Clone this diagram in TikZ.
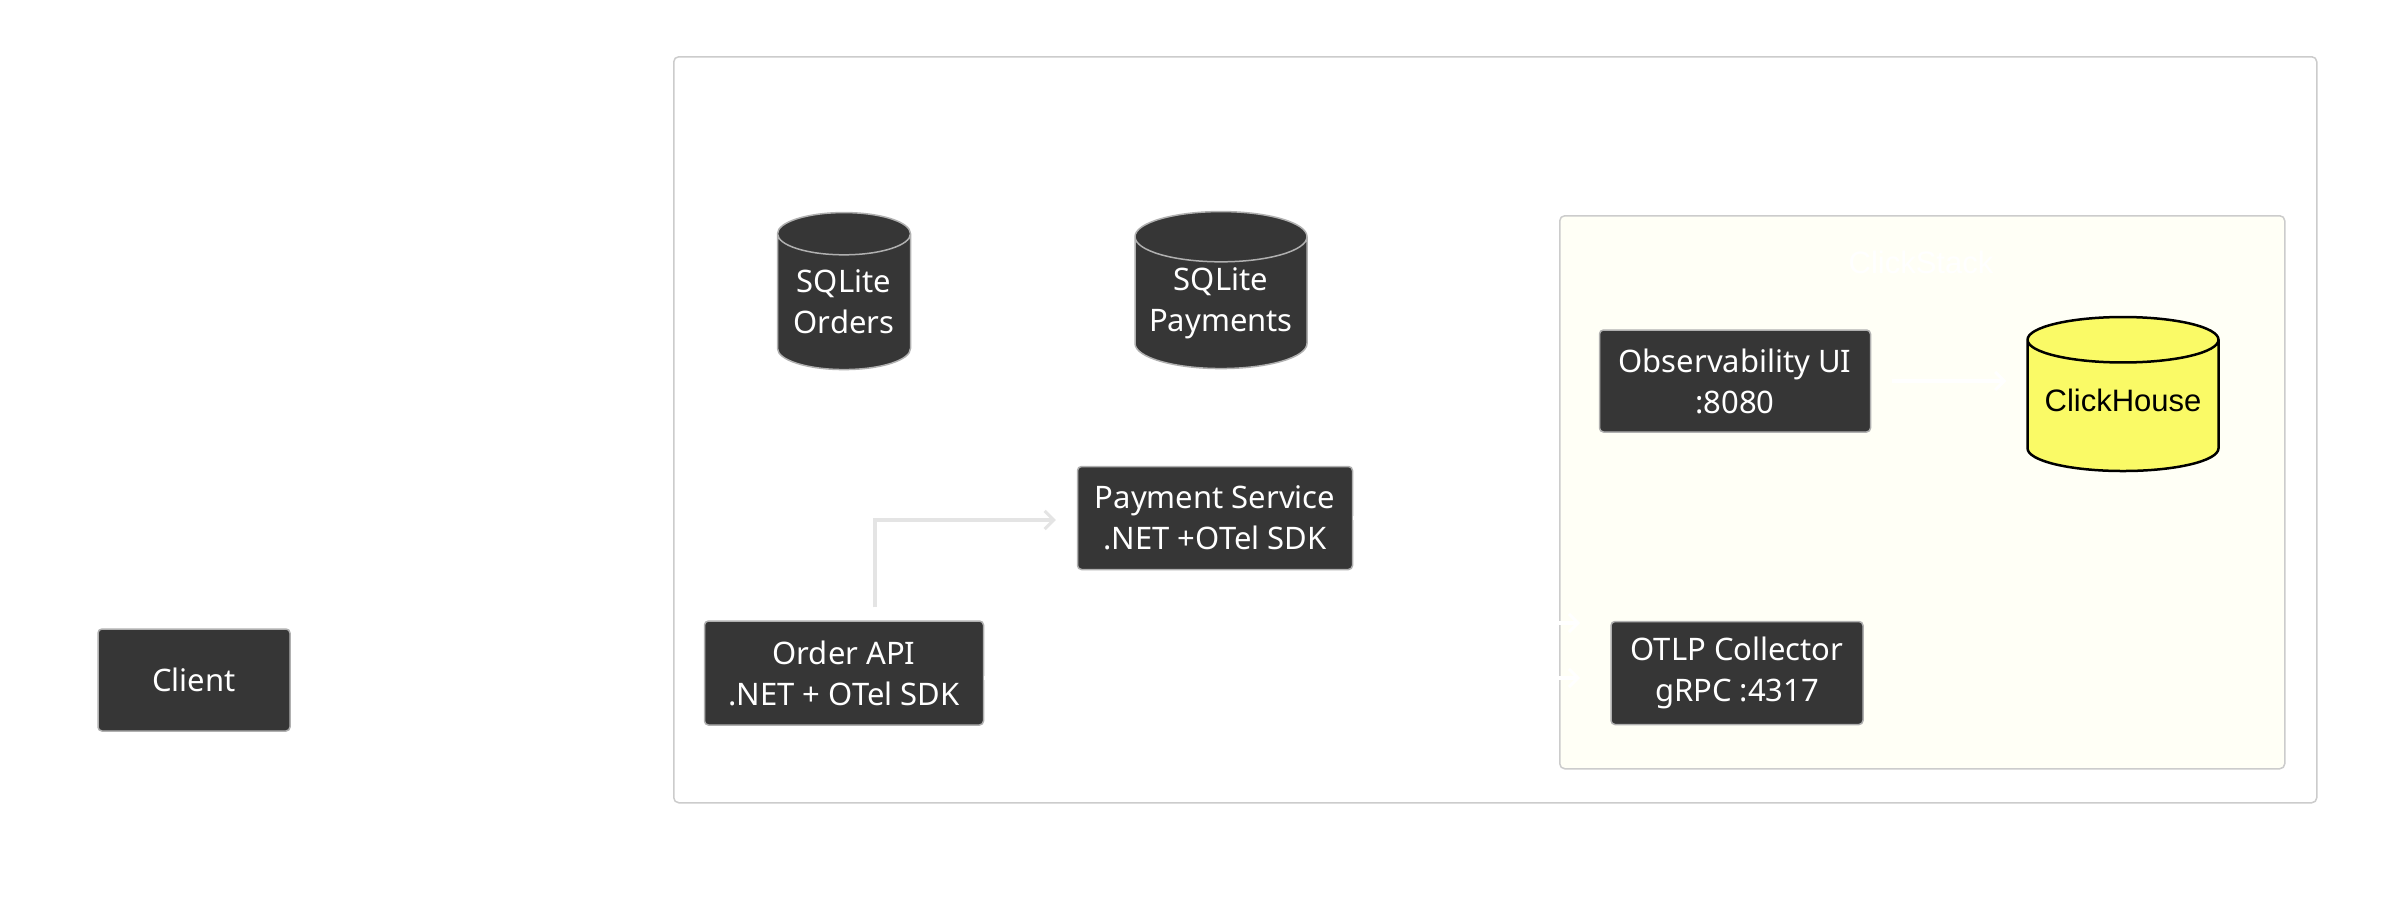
\documentclass[tikz,border=0pt]{standalone}
\usepackage{fontspec}
\setmainfont{Noto Sans}
\newfontfamily\chfont{Liberation Sans}
\usetikzlibrary{shapes.geometric, arrows.meta, positioning}

\definecolor{nodefill}{HTML}{363636}
\definecolor{nodeline}{HTML}{B0B0B0}
\definecolor{boxline}{HTML}{CCCCCC}
\definecolor{stackfill}{HTML}{FFFFF6}
\definecolor{chfill}{HTML}{FAFA66}
\definecolor{flowline}{HTML}{E4E4E4}

\newcommand{\liftby}[2]{\raisebox{#1}[\height][\depth]{#2}}

\tikzset{
  svc/.style={draw=nodeline, line width=1.5pt, fill=nodefill, rounded corners=4pt,
    text=white, align=center, inner sep=0pt, font=\fontsize{31}{41}\selectfont},
  dbase/.style={cylinder, shape border rotate=90, draw=nodeline, line width=1.5pt,
    fill=nodefill, text=white, align=center, inner sep=0pt, aspect=#1,
    font=\fontsize{31}{41}\selectfont},
  cluster/.style={draw=boxline, line width=1.5pt, rounded corners=5pt, anchor=north west, inner sep=0pt},
  flow/.style={draw=flowline, line width=3.5pt, -{Straight Barb[length=9pt, width=18pt, line width=3pt]}},
  hidden/.style={draw=white, line width=3.5pt, -{Straight Barb[length=9pt, width=18pt, line width=3pt]}}
}

\begin{document}
\begin{tikzpicture}[x=1pt, y=-1pt]
  \useasboundingbox[fill=white] (0,0) rectangle (2394,903);
  % Gruppen
  \node (system) [cluster, fill=white, minimum width=1643pt, minimum height=746pt] at (673,56) {};
  \node (stack) [cluster, fill=stackfill, minimum width=725pt, minimum height=553pt] at (1559,215) {};
  \node (stacklabel) [text=white, font=\chfont\fontsize{31}{36}\selectfont] at (1921,262) {ClickStack};

  % Knoten
  \node (client) [svc, minimum width=192pt, minimum height=102pt] at (194,680) {Client};
  \node (orderdb) [dbase=0.42, minimum width=133pt, minimum height=157pt] at (844,302) {SQLite\\Orders};
  \node (paydb) [dbase=0.35, minimum width=172pt, minimum height=157pt] at (1221,303) {SQLite\\Payments};
  \node (payment) [svc, minimum width=275pt, minimum height=103pt] at (1215,518) {Payment Service\\.NET +OTel SDK};
  \node (orderapi) [svc, minimum width=279pt, minimum height=104pt] at (844,673) {Order API\\.NET + OTel SDK};
  \node (obsui) [svc, minimum width=271pt, minimum height=102pt] at (1735,381) {Observability UI\\:8080};
  \node (clickhouse) [dbase=0.29, draw=black, line width=2.5pt, fill=chfill, text=black,
    font=\chfont\fontsize{31}{36}\selectfont, minimum width=191pt, minimum height=154pt] at (2123,406) {\liftby{6pt}{ClickHouse}};
  \node (otlp) [svc, minimum width=252pt, minimum height=103pt] at (1737,673) {OTLP Collector\\gRPC :4317};

  % Verbindungen
  \coordinate (otlpin1) at (1580,623);
  \coordinate (otlpin2) at (1580,678);
  \coordinate (bend) at (875,520);
  \draw[hidden] (payment.east) -- ++(40,0) |- (otlpin1);
  \draw[hidden] (orderapi.east |- otlpin2) -- (otlpin2);
  \draw[hidden, shorten <=21pt, shorten >=20pt] (obsui) -- (obsui -| clickhouse.west);
  \draw[flow, shorten <=13pt, shorten >=21pt] (orderapi.north -| bend) |- (payment.west |- bend);
\end{tikzpicture}
\end{document}
